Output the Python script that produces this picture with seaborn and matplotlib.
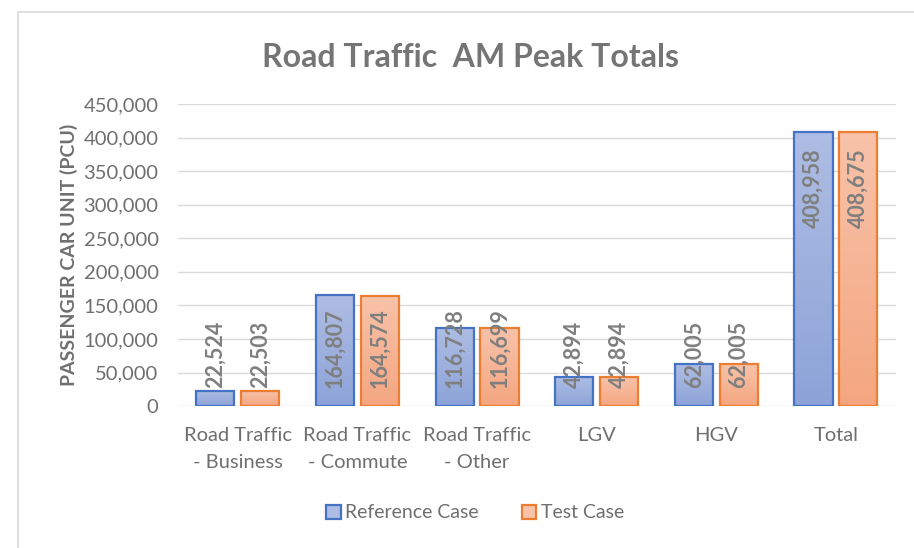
import numpy as np
import pandas as pd
import seaborn as sns
import matplotlib.pyplot as plt
from matplotlib.colors import LinearSegmentedColormap
from matplotlib.patches import Rectangle
from matplotlib.ticker import FuncFormatter

categories = ["Road Traffic\n- Business", "Road Traffic\n- Commute", "Road Traffic\n- Other",
              "LGV", "HGV", "Total"]
series_names = ["Reference Case", "Test Case"]
reference_case = [22524, 164807, 116728, 42894, 62005, 408958]
test_case = [22503, 164574, 116699, 42894, 62005, 408675]

edge_colors = ["#4472c4", "#ed7d31"]
grad_colors = [("#8da3d8", "#aebde3"), ("#f4a680", "#f8c3aa")]

df = pd.DataFrame({
    "category": categories * 2,
    "series": [series_names[0]] * 6 + [series_names[1]] * 6,
    "value": reference_case + test_case,
})

sns.set_style("white")
plt.rcParams["font.family"] = ["Lato", "DejaVu Sans"]
text_gray = "#6f6f6f"

fig = plt.figure(figsize=(9.14, 5.48), dpi=100)
ax = fig.add_axes([0.1947, 0.259, 0.7853, 0.551])

sns.barplot(data=df, x="category", y="value", hue="series", order=categories,
            hue_order=series_names, palette=edge_colors, width=0.75, gap=0.15,
            ax=ax, legend=True)

ax.set_ylim(0, 450000)
ax.set_xlim(-0.5, len(categories) - 0.5)
ax.yaxis.set_major_locator(plt.MultipleLocator(50000))
ax.yaxis.set_major_formatter(FuncFormatter(lambda v, p: f"{int(v):,}"))
ax.grid(axis="y", color="#d9d9d9", linewidth=1)
ax.set_axisbelow(True)
for s in ax.spines.values():
    s.set_visible(False)
ax.tick_params(axis="both", length=0, labelsize=14.5, colors=text_gray)
ax.tick_params(axis="y", pad=14)
ax.tick_params(axis="x", pad=15)
for lbl in ax.get_xticklabels():
    lbl.set_linespacing(1.7)

ax.set_xlabel("")
ax.set_ylabel("PASSENGER CAR UNIT (PCU)", fontsize=14, fontweight="bold",
              color=text_gray, labelpad=4)
fig.suptitle("Road Traffic  AM Peak Totals", x=0.515, y=0.895, va="center",
             fontsize=23, fontweight="bold", color="#757575")

# gradient fills clipped to each bar
for cont, edge, (c_bot, c_top) in zip(ax.containers, edge_colors, grad_colors):
    cmap = LinearSegmentedColormap.from_list("g", [c_bot, c_top])
    grad = np.linspace(0, 1, 256).reshape(-1, 1)
    for bar in cont:
        x0, w, h = bar.get_x(), bar.get_width(), bar.get_height()
        im = ax.imshow(grad, cmap=cmap, origin="lower", aspect="auto",
                       extent=(x0, x0 + w, 0, h), zorder=2)
        im.set_clip_path(bar)
        bar.set_facecolor("none")
        bar.set_edgecolor(edge)
        bar.set_linewidth(1.6)
        bar.set_zorder(3)
ax.set_ylim(0, 450000)
ax.set_xlim(-0.5, len(categories) - 0.5)

# data labels: inside end, but kept clear of the baseline
fig.canvas.draw()
renderer = fig.canvas.get_renderer()
base_px = ax.transData.transform((0, 0))[1]
for cont, vals in zip(ax.containers, [reference_case, test_case]):
    for bar, val in zip(cont, vals):
        xc = bar.get_x() + bar.get_width() / 2
        off = -17 * 72 / 100
        t = ax.annotate(f"{val:,}", xy=(xc, val), xytext=(0, off),
                        textcoords="offset points", rotation=90, ha="center",
                        va="top", fontsize=15.5, fontweight="bold",
                        color="#7f7f7f", zorder=4)
        bb = t.get_window_extent(renderer)
        min_bottom = base_px + 18
        if bb.y0 < min_bottom:
            t.xyann = (0, off + (min_bottom - bb.y0) * 72 / 100)

# legend
handles, labels = ax.get_legend_handles_labels()
for hnd, edge, (c_bot, c_top) in zip(handles, edge_colors, grad_colors):
    hnd.set_facecolor(c_top)
    hnd.set_edgecolor(edge)
    hnd.set_linewidth(1.6)
ax.legend(handles, labels, loc="center", bbox_to_anchor=(0.52, 1 - 513 / 548),
          bbox_transform=fig.transFigure, ncol=2, frameon=False, fontsize=14,
          labelcolor=text_gray, handlelength=0.75, handleheight=0.75,
          handletextpad=0.25, columnspacing=2.2)

# outer chart border
fig.patches.append(Rectangle((18 / 914, -0.5), 2, 0.5 + (1 - 12 / 548),
                             transform=fig.transFigure, fill=False,
                             edgecolor="#d9d9d9", linewidth=1.2))

fig.savefig("out.png", dpi=100)
